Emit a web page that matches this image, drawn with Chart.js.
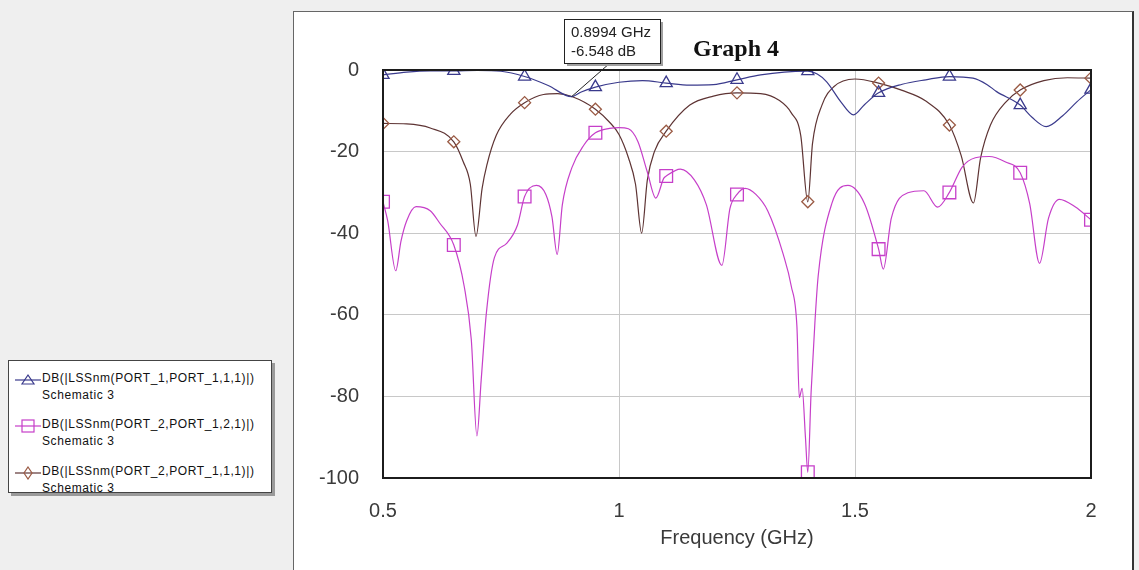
<!DOCTYPE html>
<html>
<head>
<meta charset="utf-8">
<script src="https://cdn.jsdelivr.net/npm/chart.js@4.4.1/dist/chart.umd.min.js"></script>
<style>
  html, body { margin: 0; padding: 0; }
  body { width: 1139px; height: 570px; background: #efefef; position: relative; overflow: hidden;
         font-family: "Liberation Sans", Arial, sans-serif; }
  #panel { position: absolute; left: 293px; top: 11px; width: 838px; height: 580px; background: #fff;
           border-left: 1px solid #666; border-top: 1px solid #666; border-right: 2px solid #333; }
  #chartBox { position: absolute; left: 293px; top: 11px; width: 840px; height: 559px; }
  #legend { position: absolute; left: 8px; top: 360px; width: 262px; height: 131px; background: #fff;
            border: 1px solid #444; box-shadow: 3px 3px 0 #9a9a9a; }
  .item { position: absolute; left: 0; font-size: 12px; letter-spacing: 0.6px; color: #111; }
  .item svg { position: absolute; left: 6px; top: 2px; }
  .item .t1 { position: absolute; left: 33px; top: 0; white-space: nowrap; }
  .item .t2 { position: absolute; left: 33px; top: 17px; white-space: nowrap; }
</style>
</head>
<body>
<div id="panel"></div>
<div id="chartBox"><canvas id="chart" width="840" height="559"></canvas></div>
<div id="legend"></div>

<script>
// ---------------- DATA ----------------
const xTicks = [0.5, 1, 1.5, 2];
const yTicks = [0, -20, -40, -60, -80, -100];
const markerFreqs = [0.5, 0.65, 0.8, 0.95, 1.1, 1.25, 1.4, 1.55, 1.7, 1.85, 2.0];

const s11Freq = [0.5, 0.55, 0.6, 0.65, 0.7, 0.75, 0.8, 0.85, 0.8994, 0.92, 0.95, 1.0, 1.05, 1.1, 1.15, 1.2, 1.25,
  1.3, 1.35, 1.4, 1.42, 1.44, 1.47, 1.497, 1.52, 1.55, 1.6, 1.65, 1.7, 1.75, 1.78, 1.8, 1.85, 1.875, 1.905,
  1.94, 1.97, 2.0];
const s11Db = [-1.2, -0.5, -0.2, -0.2, -0.1, -0.3, -1.6, -3.8, -6.55, -5.4, -4.2, -3.0, -2.6, -3.2, -3.7, -3.6, -2.4,
  -1.2, -0.5, -0.3, -1.0, -2.9, -7.8, -11.0, -8.5, -5.6, -3.5, -2.4, -1.6, -2.0, -3.6, -5.3, -8.6, -11.6, -13.9,
  -11.2, -7.8, -4.8];

const s21aFreq = [0.5, 0.51, 0.527, 0.538, 0.55, 0.57, 0.6, 0.62, 0.65, 0.672, 0.687, 0.699, 0.708, 0.719, 0.736,
  0.762, 0.785, 0.8, 0.825, 0.845, 0.858, 0.869, 0.88, 0.9, 0.925, 0.95, 0.98, 1.0, 1.02, 1.04, 1.06, 1.078,
  1.095, 1.1, 1.13, 1.16, 1.185, 1.218, 1.235, 1.25, 1.267, 1.29, 1.315, 1.348, 1.365, 1.377, 1.382, 1.388,
  1.395, 1.4, 1.407, 1.415, 1.422, 1.451, 1.485, 1.52, 1.55, 1.56, 1.577, 1.612, 1.646, 1.675, 1.7, 1.727,
  1.755, 1.784, 1.818, 1.85, 1.87, 1.891, 1.91, 1.933, 1.967, 2.0];
const s21aDb = [-32.3, -37, -49.2, -42, -37, -33.5, -34.5, -37.5, -42.9, -53, -66, -89.7, -76, -59.6, -46,
  -42.5, -38, -31, -28.3, -30.5, -36, -45.2, -33, -24, -18.5, -15.4, -14.3, -14.1, -14.4, -17.5, -25, -31.4,
  -26.5, -26, -24.3, -27, -33, -47.9, -34, -30.5, -29, -30.5, -34.5, -45.2, -53, -63, -80.3, -78,
  -90, -98.6, -79, -62, -50.5, -32.7, -28.3, -32.7, -43.9, -48.8, -36.3, -30.1, -29.6, -33.6, -30, -23.8,
  -21.5, -21.2, -22.5, -25.2, -32.7, -47.4, -36.3, -31.7, -33.6, -36.7];

const s21bFreq = [0.5, 0.55, 0.6, 0.65, 0.67, 0.685, 0.697, 0.71, 0.72, 0.74, 0.77, 0.8, 0.84, 0.87, 0.9, 0.95,
  0.98, 1.0, 1.02, 1.035, 1.048, 1.06, 1.075, 1.1, 1.15, 1.2, 1.25, 1.3, 1.34, 1.365, 1.385, 1.4, 1.41, 1.43,
  1.455, 1.5, 1.55, 1.6, 1.65, 1.7, 1.725, 1.751, 1.766, 1.787, 1.82, 1.85, 1.9, 1.95, 2.0];
const s21bDb = [-13.1, -13.2, -14.2, -17.6, -22.5, -28, -40.8, -29, -23.3, -16, -10.8, -8.0, -6.0, -5.8, -6.5, -9.6,
  -12.8, -15.8, -21.5, -28, -40, -27, -20, -15, -8.6, -6.4, -5.6, -5.8, -7.5, -10.5, -16, -32.3, -18, -8.6,
  -4.1, -2.2, -3.2, -5, -7.6, -13.5, -21, -32.6, -21.6, -13.5, -7.8, -4.9, -2.6, -1.9, -2.0];

const seriesNames = ['DB(|LSSnm(PORT_1,PORT_1,1,1)|)', 'DB(|LSSnm(PORT_2,PORT_1,2,1)|)', 'DB(|LSSnm(PORT_2,PORT_1,1,1)|)'];
const docName = 'Schematic 3';
const graphTitle = 'Graph 4';
const xTitle = 'Frequency (GHz)';
const markerFreq = 0.8994;
const markerDb = -6.548;

// ---------------- HELPERS ----------------
const toPoints = (fs, ds) => fs.map((f, i) => ({ x: f, y: ds[i] }));
const isMarker = (ctx) => ctx.raw && markerFreqs.some(m => Math.abs(m - ctx.raw.x) < 1e-6);

function makeSet(label, fs, ds, color, style, radius, markerColor) {
  return {
    label,
    data: toPoints(fs, ds),
    borderColor: color,
    borderWidth: 1.2,
    cubicInterpolationMode: 'monotone',
    pointStyle: style,
    pointRadius: ctx => isMarker(ctx) ? radius : 0,
    pointBorderColor: markerColor,
    pointBorderWidth: 1.3,
    pointBackgroundColor: 'rgba(0,0,0,0)',
    pointHoverRadius: 0
  };
}

const blue = '#3a3a8c';
const magenta = '#c63fc9';
const brown = '#5e3434';

// ---------------- FRAME / TITLE / READOUT ----------------
const frameAndNotes = {
  id: 'frameAndNotes',
  afterDraw(chart) {
    const { ctx, chartArea: a, scales: { x, y } } = chart;
    ctx.save();
    ctx.strokeStyle = '#1c1c1c';
    ctx.lineWidth = 2;
    ctx.strokeRect(a.left, a.top, a.right - a.left, a.bottom - a.top);

    ctx.fillStyle = '#111';
    ctx.font = 'bold 24px "Liberation Serif", "Times New Roman", serif';
    ctx.textAlign = 'center';
    ctx.textBaseline = 'middle';
    ctx.fillText(graphTitle, (a.left + a.right) / 2 - 1, 39);

    // marker readout box
    const bx = 271, by = 8, bw = 96, bh = 44;
    const px = x.getPixelForValue(markerFreq);
    const py = y.getPixelForValue(markerDb);
    ctx.strokeStyle = '#222';
    ctx.lineWidth = 1;
    ctx.beginPath();
    ctx.moveTo(bx + 46, by + bh);
    ctx.lineTo(px, py);
    ctx.stroke();
    ctx.fillStyle = '#a0a0a0';
    ctx.fillRect(bx + 3, by + 3, bw, bh);
    ctx.fillStyle = '#fff';
    ctx.fillRect(bx, by, bw, bh);
    ctx.strokeRect(bx + 0.5, by + 0.5, bw, bh);
    ctx.fillStyle = '#222';
    ctx.font = '15px "Liberation Sans", Arial, sans-serif';
    ctx.textAlign = 'left';
    ctx.fillText(markerFreq + ' GHz', bx + 7, by + 14);
    ctx.fillText(markerDb + ' dB', bx + 7, by + 33);
    ctx.restore();
  }
};

// ---------------- CHART ----------------
const chart = new Chart(document.getElementById('chart').getContext('2d'), {
  type: 'line',
  data: {
    datasets: [
      makeSet(seriesNames[0], s11Freq, s11Db, blue, 'triangle', 7, blue),
      makeSet(seriesNames[1], s21aFreq, s21aDb, magenta, 'rect', 9, magenta),
      makeSet(seriesNames[2], s21bFreq, s21bDb, brown, 'rectRot', 6, '#9a5a44')
    ]
  },
  options: {
    responsive: false,
    animation: false,
    events: [],
    layout: { padding: { left: 0, right: 42, top: 59, bottom: 0 } },
    plugins: {
      legend: { display: false },
      tooltip: { enabled: false },
      title: { display: false }
    },
    scales: {
      x: {
        type: 'linear',
        min: 0.5, max: 2,
        afterBuildTicks: s => { s.ticks = xTicks.map(v => ({ value: v })); },
        afterFit: s => { s.height = 92; },
        grid: { color: '#c8c8c8', lineWidth: 1, drawTicks: false },
        border: { display: false },
        ticks: { color: '#3a3a3a', font: { size: 20, family: '"Liberation Sans", Arial, sans-serif' },
                 padding: 21, maxRotation: 0, callback: v => String(v) },
        title: { display: true, text: xTitle, color: '#3a3a3a',
                 font: { size: 20, family: '"Liberation Sans", Arial, sans-serif' },
                 padding: { top: 0, bottom: 20 } }
      },
      y: {
        type: 'linear',
        min: -100, max: 0,
        afterBuildTicks: s => { s.ticks = yTicks.map(v => ({ value: v })); },
        afterFit: s => { s.width = 90; },
        grid: { color: '#c8c8c8', lineWidth: 1, drawTicks: false },
        border: { display: false },
        ticks: { color: '#3a3a3a', font: { size: 20, family: '"Liberation Sans", Arial, sans-serif' },
                 padding: 24, callback: v => String(v) }
      }
    }
  },
  plugins: [frameAndNotes]
});

// ---------------- LEGEND ----------------
const legendMarks = [
  `<polygon points="13,2 19,11 7,11" fill="none" stroke="${blue}" stroke-width="1.2"/>`,
  `<rect x="7" y="1" width="12" height="12" fill="none" stroke="${magenta}" stroke-width="1.2"/>`,
  `<polygon points="13,1 17,7 13,13 9,7" fill="none" stroke="#9a5a44" stroke-width="1.2"/>`
];
const legendColors = [blue, magenta, brown];
const legendTops = [10, 56, 103];
document.getElementById('legend').innerHTML = seriesNames.map((name, i) => `
  <div class="item" style="top:${legendTops[i]}px">
    <svg width="26" height="14"><line x1="0" y1="7" x2="26" y2="7" stroke="${legendColors[i]}" stroke-width="1.2"/>${legendMarks[i]}</svg>
    <span class="t1">${name}</span>
    <span class="t2">${docName}</span>
  </div>`).join('');
</script>
</body>
</html>
